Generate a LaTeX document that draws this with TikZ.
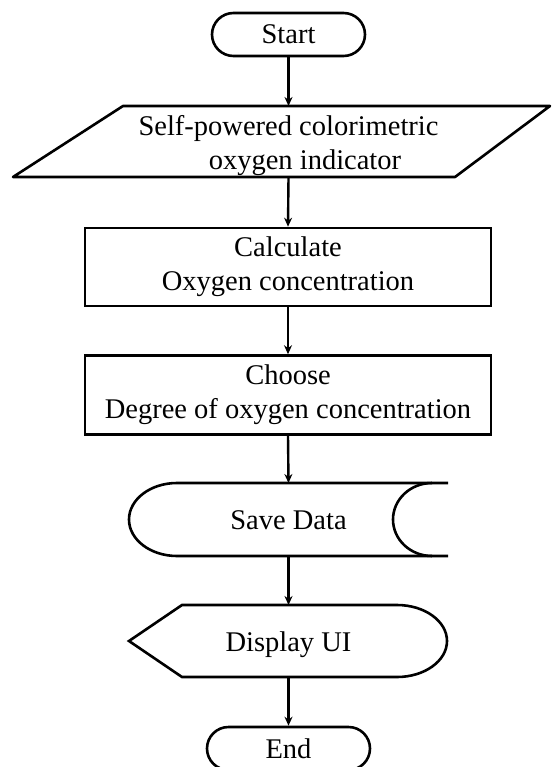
\documentclass[tikz,border=0pt]{standalone}
\usepackage{fontspec}
\setmainfont{Liberation Serif}
\usetikzlibrary{arrows.meta,shapes.misc}
\begin{document}
\begin{tikzpicture}[x=1pt,y=-1pt,
  shapeline/.style={line width=2.6pt},
  lbl/.style={font=\fontsize{28.5}{34}\selectfont, align=center, inner sep=0pt},
  flow/.style={line width=2.4pt, -{Stealth[length=9pt,width=8pt]}},
  term/.style={shapeline, draw, rounded rectangle, inner sep=0pt, lbl},
  procbox/.style={shapeline, draw, inner sep=0pt, lbl}]
\useasboundingbox (0,0) rectangle (554,767);
% Start
\node[term, minimum width=153pt, minimum height=43pt] (start) at (288.5,34.5) {Start};
% Input parallelogram
\draw[shapeline, line join=round] (123,106) -- (550,106) -- (455,177) -- (13,177) -- cycle;
\coordinate (paraT) at (288.5,106);
\coordinate (paraB) at (288.5,177);
\node[lbl] (para) at (288.5,146) {Self-powered colorimetric\\\hspace*{33pt}oxygen indicator};
% Process boxes
\node[procbox, minimum width=406pt, minimum height=78pt] (calc) at (288,267) {Calculate\\Oxygen concentration};
\node[procbox, minimum width=406pt, minimum height=79pt] (choose) at (288,395) {Choose\\Degree of oxygen concentration};
% Stored data
\draw[shapeline] (448,483) -- (177,483)
  arc[start angle=90, end angle=270, x radius=48pt, y radius=36.5pt] -- (448,556);
\draw[shapeline] (432,483) arc[start angle=90, end angle=270, x radius=39pt, y radius=36.5pt];
\coordinate (saveT) at (288.5,483);
\coordinate (saveB) at (288.5,556);
\node[lbl] (save) at (288.5,520) {Save Data};
% Display
\draw[shapeline] (129,641) -- (182,605) -- (397,605)
  arc[start angle=90, end angle=-90, x radius=50pt, y radius=36pt] -- (182,677) -- cycle;
\coordinate (dispT) at (288.5,605);
\coordinate (dispB) at (288.5,677);
\node[lbl] (disp) at (288.5,645) {Display UI};
% End
\node[term, minimum width=163pt, minimum height=43pt] (end) at (288.5,748.5) {End};
% Connectors
\draw[flow] (start.south) -- (paraT);
\draw[flow] (paraB) -- (calc.north);
\draw[flow] (calc.south) -- (choose.north);
\draw[flow] (choose.south) -- (saveT);
\draw[flow] (saveB) -- (dispT);
\draw[flow] (dispB) -- (end.north);
\end{tikzpicture}
\end{document}
